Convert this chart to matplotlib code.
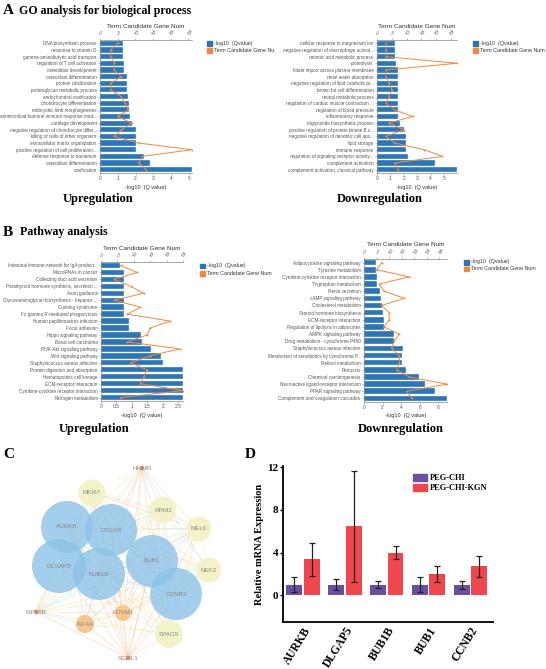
import numpy as np
import matplotlib
matplotlib.use("Agg")
import matplotlib.pyplot as plt
from matplotlib.patches import Rectangle, Circle
from matplotlib.transforms import Bbox, TransformedBbox
from matplotlib.ticker import FormatStrFormatter

W, H = 546, 669
BLUE = "#2e75b6"
ORANGE = "#f0893e"
SANS = "Liberation Sans"
SERIF = "Liberation Serif"

# ---------------- Data: A (GO) ----------------
go_up_terms = ["DNA biosynthetic process", "response to vitamin D", "gamma-aminobutyric acid transport",
               "regulation of T cell activation", "osteoblast development", "osteoclast differentiation",
               "protein citrullination", "proteoglycan metabolic process", "endochondral ossification",
               "chondrocyte differentiation", "embryonic limb morphogenesis",
               "antimicrobial humoral immune response med...", "cartilage development",
               "negative regulation of chondrocyte differ...", "killing of cells of other organism",
               "extracellular matrix organization", "positive regulation of cell proliferation...",
               "defense response to bacterium", "osteoblast differentiation", "ossification"]
go_up_q = [1.27, 1.27, 1.27, 1.33, 1.33, 1.5, 1.5, 1.5, 1.59, 1.63, 1.66, 1.7, 1.81, 2.0, 2.0,
           2.0, 2.0, 2.45, 2.8, 5.18]
go_up_n = [5, 3, 3, 4, 4, 6, 3, 3, 6, 7, 8, 5, 9, 6, 4, 11, 26, 12, 11, 13]

go_down_terms = ["cellular response to magnesium ion", "negative regulation of macrophage activat...",
                 "retinoic acid metabolic process", "proteolysis", "folate import across plasma membrane",
                 "renal water absorption", "negative regulation of lipid catabolic pr...",
                 "brown fat cell differentiation", "retinal metabolic process",
                 "regulation of cardiac muscle contraction ...", "regulation of blood pressure",
                 "inflammatory response", "triglyceride biosynthetic process",
                 "positive regulation of protein kinase B s...", "negative regulation of dendritic cell apo...",
                 "lipid storage", "immune response", "regulation of signaling receptor activity...",
                 "complement activation", "complement activation, classical pathway"]
go_down_q = [1.36, 1.36, 1.36, 1.38, 1.53, 1.53, 1.53, 1.53, 1.53, 1.53, 1.53, 1.53, 1.68, 2.0,
             2.12, 2.12, 2.12, 2.27, 4.35, 5.95]
go_down_n = [3, 3, 3, 27, 3, 3, 4, 5, 4, 3, 6, 12, 4, 9, 3, 6, 16, 22, 6, 7]

# ---------------- Data: B (Pathway) ----------------
kegg_up_terms = ["Intestinal immune network for IgA product...", "MicroRNAs in cancer",
                 "Collecting duct acid secretion", "Parathyroid hormone synthesis, secretion ...",
                 "Axon guidance", "Glycosaminoglycan biosynthesis - heparan ...", "Cushing syndrome",
                 "Fc gamma R-mediated phagocytosis", "Human papillomavirus infection", "Focal adhesion",
                 "Hippo signaling pathway", "Basal cell carcinoma", "PI3K-Akt signaling pathway",
                 "Wnt signaling pathway", "Staphylococcus aureus infection",
                 "Protein digestion and absorption", "Hematopoietic cell lineage",
                 "ECM-receptor interaction", "Cytokine-cytokine receptor interaction", "Nitrogen metabolism"]
kegg_up_q = [0.63, 0.74, 0.74, 0.74, 0.74, 0.74, 0.75, 0.75, 0.91, 0.91, 1.28, 1.32, 1.6, 1.93,
             1.99, 2.65, 2.65, 2.65, 2.65, 2.65]
kegg_up_n = [6, 11, 4, 9, 13, 4, 12, 8, 21, 15, 14, 8, 24, 15, 9, 14, 13, 12, 25, 6]

kegg_down_terms = ["Adipocytokine signaling pathway", "Tyrosine metabolism",
                   "Cytokine-cytokine receptor interaction", "Tryptophan metabolism", "Renin secretion",
                   "cAMP signaling pathway", "Cholesterol metabolism", "Steroid hormone biosynthesis",
                   "ECM-receptor interaction", "Regulation of lipolysis in adipocytes",
                   "AMPK signaling pathway", "Drug metabolism - cytochrome P450",
                   "Staphylococcus aureus infection", "Metabolism of xenobiotics by cytochrome P...",
                   "Retinol metabolism", "Pertussis", "Chemical carcinogenesis",
                   "Neuroactive ligand-receptor interaction", "PPAR signaling pathway",
                   "Complement and coagulation cascades"]
kegg_down_q = [1.25, 1.25, 1.4, 1.4, 1.68, 1.86, 1.93, 2.0, 2.2, 2.2, 3.2, 3.2, 4.2, 4.1, 4.14,
               4.5, 5.9, 6.6, 7.6, 8.93]
kegg_down_n = [7, 5, 18, 6, 8, 16, 7, 10, 10, 8, 14, 12, 11, 14, 14, 13, 18, 33, 17, 19]

# ---------------- Data: C (network) ----------------
net_names = ["HMMR", "MKI67", "RRM2", "MELK", "NEK2", "AURKB", "CDCA8", "BUB1", "DLGAP5",
             "BUB1B", "CCNB2", "KIF18B", "FOXM1", "KIF4A", "SPAG5", "SGOL1"]
net_x = [142, 92, 163, 199, 209, 67, 111, 152, 59, 99, 176, 36, 123, 85, 169, 128]
net_y = [468, 493, 510, 529, 570, 527, 530, 561, 566, 574, 594, 612, 613, 624, 634, 658]
net_r = [2.2, 13.5, 13.5, 12.5, 12.5, 26, 26, 26, 27, 26, 26, 2.2, 8, 9, 14, 2.2]
net_kind = ["dot", "yellow", "yellow", "yellow", "yellow", "blue", "blue", "blue", "blue",
            "blue", "blue", "dot", "orange", "orange", "yellow", "dot"]

# ---------------- Data: D (qPCR) ----------------
genes = ["AURKB", "DLGAP5", "BUB1B", "BUB1", "CCNB2"]
peg_chi = [1.0, 1.0, 1.0, 1.0, 1.0]
peg_chi_err = [0.7, 0.5, 0.36, 0.72, 0.37]
peg_chi_kgn = [3.35, 6.45, 4.0, 2.0, 2.72]
peg_chi_kgn_err = [1.55, 5.2, 0.65, 0.72, 0.97]

fig = plt.figure(figsize=(W / 100, H / 100), dpi=100)
fig.patch.set_facecolor("white")


def rect(x0, y0, x1, y1):
    return [x0 / W, 1 - y1 / H, (x1 - x0) / W, (y1 - y0) / H]


def ftext(x, y, s, **kw):
    return fig.text(x / W, 1 - y / H, s, **kw)


clipbox = TransformedBbox(Bbox([[0, 0], [274 / W, 1]]), fig.transFigure)


def bar_panel(x0, y0, x1, y1, terms, q, n, bticks, tticks, leg_x, leg_y, clip=False):
    ax = fig.add_axes(rect(x0, y0, x1, y1))
    k = len(terms)
    yy = np.arange(k)
    ax.barh(yy, q, height=0.78, color=BLUE, edgecolor="#dfe9f3", linewidth=0.3)
    ax.set_ylim(k - 0.5, -0.5)
    ax.set_xlim(0, max(q))
    ax.set_yticks(yy)
    ax.set_yticklabels(terms, fontsize=3.3, color="#555555", family=SANS)
    ax.set_xticks(bticks)
    ax.xaxis.set_major_formatter(FormatStrFormatter("%g"))
    for lab in ax.get_xticklabels():
        lab.set_fontsize(3.5)
        lab.set_color("#555555")
        lab.set_family(SANS)
    ax.tick_params(axis="both", length=1.5, width=0.4, color="#888888", pad=1)
    for s in ["right", "top"]:
        ax.spines[s].set_visible(False)
    for s in ["left", "bottom"]:
        ax.spines[s].set_color("#888888")
        ax.spines[s].set_linewidth(0.5)
    ax2 = ax.twiny()
    ax2.plot(n, yy, color=ORANGE, lw=0.7, marker="o", ms=1.4, mew=0)
    ax2.set_xlim(0, max(n))
    ax2.set_ylim(k - 0.5, -0.5)
    ax2.set_xticks(tticks)
    ax2.set_xticklabels([str(t) for t in tticks], fontsize=3.3, color="#666666",
                        rotation=-30, family=SANS)
    ax2.tick_params(axis="x", length=1.5, width=0.4, color="#888888", pad=1)
    for s in ["right", "bottom", "left"]:
        ax2.spines[s].set_visible(False)
    ax2.spines["top"].set_color("#888888")
    ax2.spines["top"].set_linewidth(0.5)
    xc = (x0 + x1) / 2
    ftext(xc, y0 - 14, "Term Candidate Gene Num", fontsize=4.6, color="#333333",
          ha="center", va="center", family=SANS)
    ftext(xc, y1 + 14, "-log10  (Q value)", fontsize=4.0, color="#333333",
          ha="center", va="center", family=SANS)
    # legend
    fig.add_artist(Rectangle((leg_x / W, 1 - (leg_y + 2.5) / H), 5 / W, 5 / H,
                             transform=fig.transFigure, color=BLUE))
    fig.add_artist(Rectangle((leg_x / W, 1 - (leg_y + 9.5) / H), 5 / W, 5 / H,
                             transform=fig.transFigure, color=ORANGE))
    t1 = ftext(leg_x + 7, leg_y, "-log10  (Qvalue)", fontsize=3.8, color="#333333",
               va="center", family=SANS)
    t2 = ftext(leg_x + 7, leg_y + 7, "Term Candidate Gene Num", fontsize=3.8, color="#333333",
               va="center", family=SANS)
    if clip:
        for t in (t1, t2):
            t.set_clip_box(clipbox)
            t.set_clip_on(True)
    return ax


# Panel A
ftext(3, 11, "A", fontsize=11, weight="bold", family=SERIF, va="center")
ftext(19, 11, "GO analysis for biological process", fontsize=8.6, weight="bold",
      family=SERIF, va="center")
bar_panel(100, 40, 192, 173, go_up_terms, go_up_q, go_up_n, [0, 1, 2, 3, 4, 5],
          [0, 5, 10, 15, 20, 25], 207, 43, clip=True)
bar_panel(377, 40, 457, 173, go_down_terms, go_down_q, go_down_n, [0, 1, 2, 3, 4, 5],
          [0, 5, 10, 15, 20, 25], 473, 43)
ftext(98, 199, "Upregulation", fontsize=9, weight="bold", family=SERIF, ha="center", va="center")
ftext(380, 199, "Downregulation", fontsize=9, weight="bold", family=SERIF, ha="center", va="center")

# Panel B
ftext(3, 232, "B", fontsize=11, weight="bold", family=SERIF, va="center")
ftext(20, 232, "Pathway analysis", fontsize=8.6, weight="bold", family=SERIF, va="center")
bar_panel(101, 262, 183, 401, kegg_up_terms, kegg_up_q, kegg_up_n, [0, 0.5, 1, 1.5, 2, 2.5],
          [0, 5, 10, 15, 20, 25], 200, 266, clip=True)
bar_panel(364, 259, 447, 402, kegg_down_terms, kegg_down_q, kegg_down_n, [0, 2, 4, 6, 8],
          [0, 5, 10, 15, 20, 25, 30], 464, 262)
ftext(94, 429, "Upregulation", fontsize=9, weight="bold", family=SERIF, ha="center", va="center")
ftext(401, 429, "Downregulation", fontsize=9, weight="bold", family=SERIF, ha="center", va="center")

# Panel C (network)
ftext(3, 455, "C", fontsize=11, weight="bold", family=SERIF, va="center")
net = fig.add_axes([0, 0, 1, 1], zorder=-1)
net.set_xlim(0, W)
net.set_ylim(H, 0)
net.axis("off")
edge_cols = ["#f6b48a", "#f7e3a0", "#bfe0cf", "#f3c9a0", "#b5d6ea", "#f5d77f"]
m = len(net_names)
for i in range(m):
    for j in range(i + 1, m):
        c = edge_cols[(i * 3 + j) % len(edge_cols)]
        net.plot([net_x[i], net_x[j]], [net_y[i], net_y[j]], color=c, lw=0.55, alpha=0.45,
                 zorder=1)
fill = {"yellow": ("#f4f2c6", 0.95), "orange": ("#f7c690", 1.0), "blue": ("#8cc3e8", 0.8),
        "dot": ("#ee8a5a", 1.0)}
order = ["yellow", "orange", "dot", "blue"]
for kind in order:
    for i in range(m):
        if net_kind[i] == kind:
            col, a = fill[kind]
            net.add_patch(Circle((net_x[i], net_y[i]), net_r[i], color=col, alpha=a,
                                 zorder=2 + order.index(kind), lw=0))
for i in range(m):
    net.text(net_x[i], net_y[i], net_names[i], fontsize=4.5, color="#8a8a8a", ha="center",
             va="center", family=SANS, zorder=10)

# Panel D
ftext(245, 455, "D", fontsize=11, weight="bold", family=SERIF, va="center")
axd = fig.add_axes(rect(283, 466, 493, 622))
xg = np.arange(len(genes))
bw = 0.38
off = 0.21
axd.bar(xg - off, peg_chi, bw, color="#6a4fa0", yerr=peg_chi_err, capsize=2,
        error_kw=dict(lw=0.9, capthick=0.9, ecolor="#222222"))
axd.bar(xg + off, peg_chi_kgn, bw, color="#f0464e", yerr=peg_chi_kgn_err, capsize=2,
        error_kw=dict(lw=0.9, capthick=0.9, ecolor="#222222"))
axd.set_xlim(-0.48, 4.54)
axd.set_ylim(-2.5, 12.1)
axd.set_yticks([0, 4, 8, 12])
axd.set_yticklabels(["0", "4", "8", "12"], fontsize=8, weight="bold", family=SERIF)
axd.set_xticks(xg)
axd.set_xticklabels(genes, rotation=58, ha="right", rotation_mode="anchor", fontsize=8.3,
                    weight="bold", family=SERIF)
axd.tick_params(axis="y", length=2.5, width=1, pad=1)
axd.tick_params(axis="x", length=0, pad=2)
for s in ["right", "top"]:
    axd.spines[s].set_visible(False)
for s in ["left", "bottom"]:
    axd.spines[s].set_linewidth(1.3)
axd.set_ylabel("Relative mRNA Expression", fontsize=7.5, weight="bold", family=SERIF, labelpad=2)
fig.add_artist(Rectangle((413 / W, 1 - 481 / H), 14 / W, 7 / H, transform=fig.transFigure,
                         color="#6a4fa0"))
fig.add_artist(Rectangle((413 / W, 1 - 491 / H), 14 / W, 7 / H, transform=fig.transFigure,
                         color="#f0464e"))
ftext(430, 477.5, "PEG-CHI", fontsize=6, weight="bold", family=SERIF, va="center")
ftext(430, 487.5, "PEG-CHI-KGN", fontsize=6, weight="bold", family=SERIF, va="center")

fig.savefig("out.png", dpi=100, facecolor="white")
